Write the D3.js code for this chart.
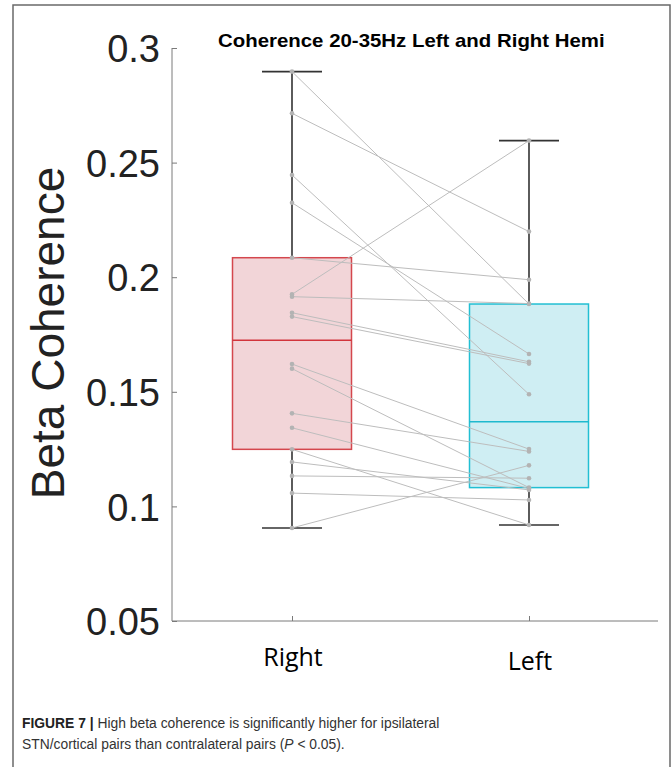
<!DOCTYPE html>
<html>
<head>
<meta charset="utf-8">
<script src="https://cdn.jsdelivr.net/npm/d3@7"></script>
<style>
  html, body { margin: 0; padding: 0; background: #fff; }
  svg { display: block; }
</style>
</head>
<body>
<div id="chart"></div>
<script>
// Paired beta coherence values (20-35 Hz), one entry per STN/cortical pair.
const groups = ["Right", "Left"];
const rightVals = [0.2897, 0.2715, 0.2446, 0.2325, 0.2085, 0.1925, 0.1915, 0.1845, 0.1828,
                   0.1621, 0.1601, 0.1406, 0.1343, 0.1249, 0.1194, 0.1133, 0.1058, 0.0906];
const leftVals  = [0.1883, 0.2199, 0.1489, 0.1665, 0.1989, 0.2596, 0.1885, 0.1631, 0.1623,
                   0.1250, 0.1082, 0.1240, 0.1078, 0.0919, 0.1072, 0.1123, 0.1028, 0.1179];
const yTicks = [0.05, 0.1, 0.15, 0.2, 0.25, 0.3];
const yTickLabels = ["0.05", "0.1", "0.15", "0.2", "0.25", "0.3"];
const title = "Coherence 20-35Hz Left and Right Hemi";
const yLabel = "Beta Coherence";
const captionBold = "FIGURE 7 |";
const captionLine1 = " High beta coherence is significantly higher for ipsilateral";
const captionLine2 = ["STN/cortical pairs than contralateral pairs (", "P", " < 0.05)."];

const W = 672, H = 767;
const svg = d3.select("#chart").append("svg").attr("width", W).attr("height", H);

// figure frame
svg.append("path")
  .attr("d", `M13,${H + 2} V5 H670 V${H + 2}`)
  .attr("fill", "none").attr("stroke", "#6a6a6a").attr("stroke-width", 1.5);

const y = d3.scaleLinear().domain([0.05, 0.3]).range([621, 48]);
const x = d3.scalePoint().domain(groups).range([292, 529]);
const axisLeftX = 172, axisRightX = 658;

// quartiles as computed by MATLAB's prctile
function pct(vals, p) {
  const s = vals.slice().sort((a, b) => a - b);
  const n = s.length;
  let pos = n * p / 100 + 0.5;
  if (pos <= 1) return s[0];
  if (pos >= n) return s[n - 1];
  const lo = Math.floor(pos), f = pos - lo;
  return s[lo - 1] + f * (s[lo] - s[lo - 1]);
}
function stats(vals) {
  const q1 = pct(vals, 25), q3 = pct(vals, 75), med = pct(vals, 50);
  const iqr = q3 - q1;
  const inside = vals.filter(v => v >= q1 - 1.5 * iqr && v <= q3 + 1.5 * iqr);
  return { q1, q3, med, lo: d3.min(inside), hi: d3.max(inside) };
}

const styles = {
  Right: { fill: "#f2d5d8", stroke: "#d4474d", median: "#d2353c" },
  Left:  { fill: "#cfeef3", stroke: "#22bfd3", median: "#1fb9ce" }
};
const series = { Right: rightVals, Left: leftVals };
const boxHalf = 59.5, capHalf = 30;

const gBox = svg.append("g");
groups.forEach(gname => {
  const st = stats(series[gname]);
  const cx = x(gname);
  const sty = styles[gname];
  // whiskers
  gBox.append("line").attr("x1", cx).attr("x2", cx).attr("y1", y(st.q3)).attr("y2", y(st.hi))
    .attr("stroke", "#333").attr("stroke-width", 1.6);
  gBox.append("line").attr("x1", cx).attr("x2", cx).attr("y1", y(st.q1)).attr("y2", y(st.lo))
    .attr("stroke", "#333").attr("stroke-width", 1.6);
  [st.hi, st.lo].forEach(v => {
    gBox.append("line").attr("x1", cx - capHalf).attr("x2", cx + capHalf)
      .attr("y1", y(v)).attr("y2", y(v)).attr("stroke", "#333").attr("stroke-width", 1.6);
  });
  // box
  gBox.append("rect")
    .attr("x", cx - boxHalf).attr("width", boxHalf * 2)
    .attr("y", y(st.q3)).attr("height", y(st.q1) - y(st.q3))
    .attr("fill", sty.fill).attr("stroke", sty.stroke).attr("stroke-width", 1.5);
  gBox.append("line").attr("x1", cx - boxHalf).attr("x2", cx + boxHalf)
    .attr("y1", y(st.med)).attr("y2", y(st.med))
    .attr("stroke", sty.median).attr("stroke-width", 1.5);
});

// paired lines and points
const pairs = rightVals.map((r, i) => ({ r, l: leftVals[i] }));
const gPairs = svg.append("g");
gPairs.selectAll("line.pair").data(pairs).join("line").attr("class", "pair")
  .attr("x1", x("Right")).attr("y1", d => y(d.r))
  .attr("x2", x("Left")).attr("y2", d => y(d.l))
  .attr("stroke", "#bdbdbd").attr("stroke-width", 1);
groups.forEach(gname => {
  gPairs.selectAll(null).data(series[gname]).join("circle")
    .attr("cx", x(gname)).attr("cy", d => y(d)).attr("r", 2.3)
    .attr("fill", "#b3b3b3");
});

// y axis
const yAxis = d3.axisLeft(y).tickValues(yTicks).tickSize(-5)
  .tickFormat((d, i) => yTickLabels[i]);
const gy = svg.append("g").attr("transform", `translate(${axisLeftX},0)`).call(yAxis);
gy.select(".domain").attr("stroke", "#7a7a7a").attr("d", `M0,${y(0.3)}V${y(0.05)}`);
gy.selectAll(".tick line").attr("stroke", "#7a7a7a");
gy.selectAll(".tick text")
  .attr("x", -12).attr("dy", "0.36em")
  .attr("font-family", "'Liberation Sans', Arial, sans-serif")
  .attr("font-size", 38).attr("fill", "#222");

// x axis
const xAxis = d3.axisBottom(x).tickSize(-5).tickFormat("");
const gx = svg.append("g").attr("transform", `translate(0,${y(0.05)})`).call(xAxis);
gx.select(".domain").attr("stroke", "#7a7a7a").attr("d", `M${axisLeftX},0H${axisRightX}`);
gx.selectAll(".tick line").attr("stroke", "#7a7a7a");
const xLabelY = { Right: 666, Left: 670 };
svg.append("g").selectAll("text").data(groups).join("text")
  .attr("x", d => x(d) + 1).attr("y", d => xLabelY[d])
  .attr("text-anchor", "middle")
  .attr("font-family", "'Open Sans', sans-serif").attr("font-size", 25)
  .attr("font-weight", 500).attr("fill", "#000").text(d => d);

// y label
svg.append("text")
  .attr("transform", `translate(64,333) rotate(-90)`)
  .attr("text-anchor", "middle")
  .attr("font-family", "'Liberation Sans', Arial, sans-serif")
  .attr("font-size", 46).attr("fill", "#222").text(yLabel);

// title, stretched to its printed width
const titleText = svg.append("text")
  .attr("y", 47.5)
  .attr("font-family", "'Liberation Sans', Arial, sans-serif")
  .attr("font-weight", "bold").attr("font-size", 18).attr("fill", "#000").text(title);
const tw = titleText.node().getComputedTextLength();
titleText.attr("transform", `translate(218,0) scale(${387 / tw},1)`);

// caption, set in a condensed width
function captionLine(yPos, width, build) {
  const t = svg.append("text").attr("y", yPos)
    .attr("font-family", "'Liberation Sans', Arial, sans-serif")
    .attr("font-size", 15.5).attr("fill", "#333");
  build(t);
  const w = t.node().getComputedTextLength();
  t.attr("transform", `translate(22,0) scale(${width / w},1)`);
}
captionLine(728, 418, t => {
  t.append("tspan").attr("font-weight", "bold").attr("fill", "#222").text(captionBold);
  t.append("tspan").text(captionLine1);
});
captionLine(749, 323, t => {
  t.append("tspan").text(captionLine2[0]);
  t.append("tspan").attr("font-style", "italic").text(captionLine2[1]);
  t.append("tspan").text(captionLine2[2]);
});
</script>
</body>
</html>
